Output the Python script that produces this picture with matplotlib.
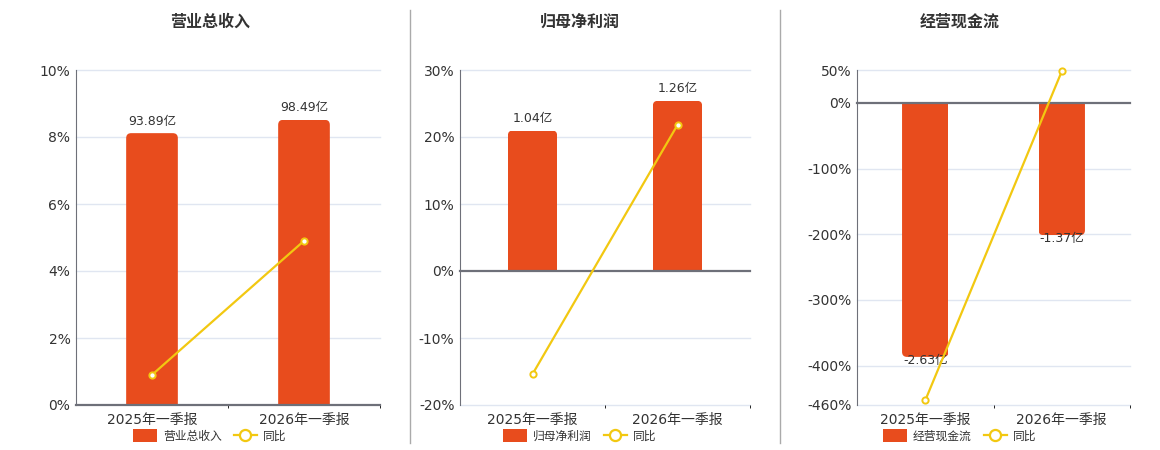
import numpy as np
import matplotlib
matplotlib.use("Agg")
from matplotlib import pyplot as plt
from matplotlib.patches import FancyBboxPatch, Rectangle, Patch
from matplotlib.lines import Line2D

plt.rcParams['font.family'] = ['DejaVu Sans', 'Noto Sans CJK SC']

categories = ['2025年一季报', '2026年一季报']

revenue = [93.89, 98.49]
revenue_yoy = [0.9, 4.9]
profit = [1.04, 1.26]
profit_yoy = [-15.4, 21.8]
cashflow = [-2.63, -1.37]
cashflow_yoy = [-453.0, 47.9]

BAR = '#e84c1d'
LINE = '#f2c811'
AXIS = '#6e7079'
GRID = '#e0e6f1'
TEXT = '#333333'

W, H = 1160, 450

panels = [
    dict(title='营业总收入', bars=revenue, yoy=revenue_yoy,
         yticks=[0, 2, 4, 6, 8, 10], ylim=(0, 10), bar_lim=(0, 115.7),
         box=(76, 380), center=210),
    dict(title='归母净利润', bars=profit, yoy=profit_yoy,
         yticks=[-20, -10, 0, 10, 20, 30], ylim=(-20, 30), bar_lim=(-0.992, 1.488),
         box=(460, 750), center=580),
    dict(title='经营现金流', bars=cashflow, yoy=cashflow_yoy,
         yticks=[-460, -400, -300, -200, -100, 0, 50], ylim=(-460, 50), bar_lim=(-3.128, 0.34),
         box=(857, 1130), center=960),
]

fig = plt.figure(figsize=(W / 100, H / 100), dpi=100)


def rounded_bar(ax, x, h, w, r_px):
    inv = ax.transData.inverted()
    p0 = inv.transform((0, 0))
    p1 = inv.transform((r_px, r_px))
    rx, ry = abs(p1[0] - p0[0]), abs(p1[1] - p0[1])
    if h >= 0:
        y0, hh = -ry, h + ry
    else:
        y0, hh = h, -h + ry
    patch = FancyBboxPatch((x - w / 2, y0), w, hh,
                           boxstyle=f"round,pad=0,rounding_size={rx}",
                           mutation_aspect=ry / rx, facecolor=BAR,
                           edgecolor='none', zorder=2)
    ax.add_patch(patch)
    clip = Rectangle((x - w / 2, min(0, h)), w, abs(h), transform=ax.transData)
    patch.set_clip_path(clip)


x = np.arange(len(categories))

for p in panels:
    left, right = p['box']
    rect = [left / W, 45 / H, (right - left) / W, 335 / H]

    # base axes: percent ticks and grid
    ax = fig.add_axes(rect)
    ax.set_xlim(-0.5, len(categories) - 0.5)
    ax.set_ylim(*p['ylim'])
    ax.set_yticks(p['yticks'])
    ax.set_yticklabels([f'{t}%' for t in p['yticks']])
    ax.tick_params(axis='y', length=0, pad=4, labelsize=10, labelcolor=TEXT)
    ax.set_xticks([])
    for s in ['top', 'right', 'bottom']:
        ax.spines[s].set_visible(False)
    ax.spines['left'].set_color(AXIS)
    for t in p['yticks']:
        if t != 0:
            ax.axhline(t, color=GRID, lw=1, zorder=0, clip_on=False)

    for i, c in enumerate(categories):
        ax.annotate(c, xy=(i, 0), xycoords=('data', 'axes fraction'),
                    xytext=(0, -5.5), textcoords='offset points',
                    ha='center', va='top', fontsize=10, color=TEXT)

    # bar axes
    axb = ax.twinx()
    axb.set_ylim(*p['bar_lim'])
    axb.axis('off')
    for xi, v in zip(x, p['bars']):
        rounded_bar(axb, xi, v, 0.34, 5)
        if v >= 0:
            axb.annotate(f'{v:.2f}亿', xy=(xi, v), xytext=(0, 4),
                         textcoords='offset points', ha='center', va='bottom',
                         fontsize=9, color=TEXT)
        else:
            axb.annotate(f'{v:.2f}亿', xy=(xi, v), xytext=(0, 2),
                         textcoords='offset points', ha='center', va='top',
                         fontsize=9, color=TEXT)

    # line axes (same percent scale)
    axl = ax.twinx()
    axl.set_ylim(*p['ylim'])
    axl.set_yticks([])
    for s in ['top', 'right', 'left']:
        axl.spines[s].set_visible(False)
    axl.spines['bottom'].set_position(('data', 0))
    axl.spines['bottom'].set_color(AXIS)
    axl.spines['bottom'].set_linewidth(1.6)
    axl.set_xticks([])
    axl.set_xticks([0.5, 1.5], minor=True)
    axl.tick_params(axis='x', which='minor', length=5, width=1, color=AXIS,
                    labelbottom=False)
    axl.plot(x, p['yoy'], color=LINE, lw=1.6, marker='o', ms=4.5,
             mfc='white', mec=LINE, mew=1.4, zorder=5, clip_on=False)

    fig.text(p['center'] / W, 1 - 22 / H, p['title'], ha='center', va='center',
             fontsize=11.5, fontweight='bold', color=TEXT)

    handles = [Patch(facecolor=BAR, edgecolor='none'),
               Line2D([], [], color=LINE, lw=1.6, marker='o', ms=8,
                      mfc='white', mec=LINE, mew=1.6)]
    fig.legend(handles, [p['title'], '同比'], loc='center',
               bbox_to_anchor=(p['center'] / W, 1 - 436 / H), ncol=2,
               frameon=False, fontsize=8.5, labelcolor=TEXT,
               handlelength=2.0, handleheight=1.3, handletextpad=0.5,
               columnspacing=1.0, borderpad=0)

for sx in [410, 780]:
    fig.add_artist(Line2D([sx / W, sx / W], [1 - 443 / H, 1 - 10 / H],
                          transform=fig.transFigure, color='#aaaaaa', lw=1))

fig.savefig('out.png', dpi=100)
